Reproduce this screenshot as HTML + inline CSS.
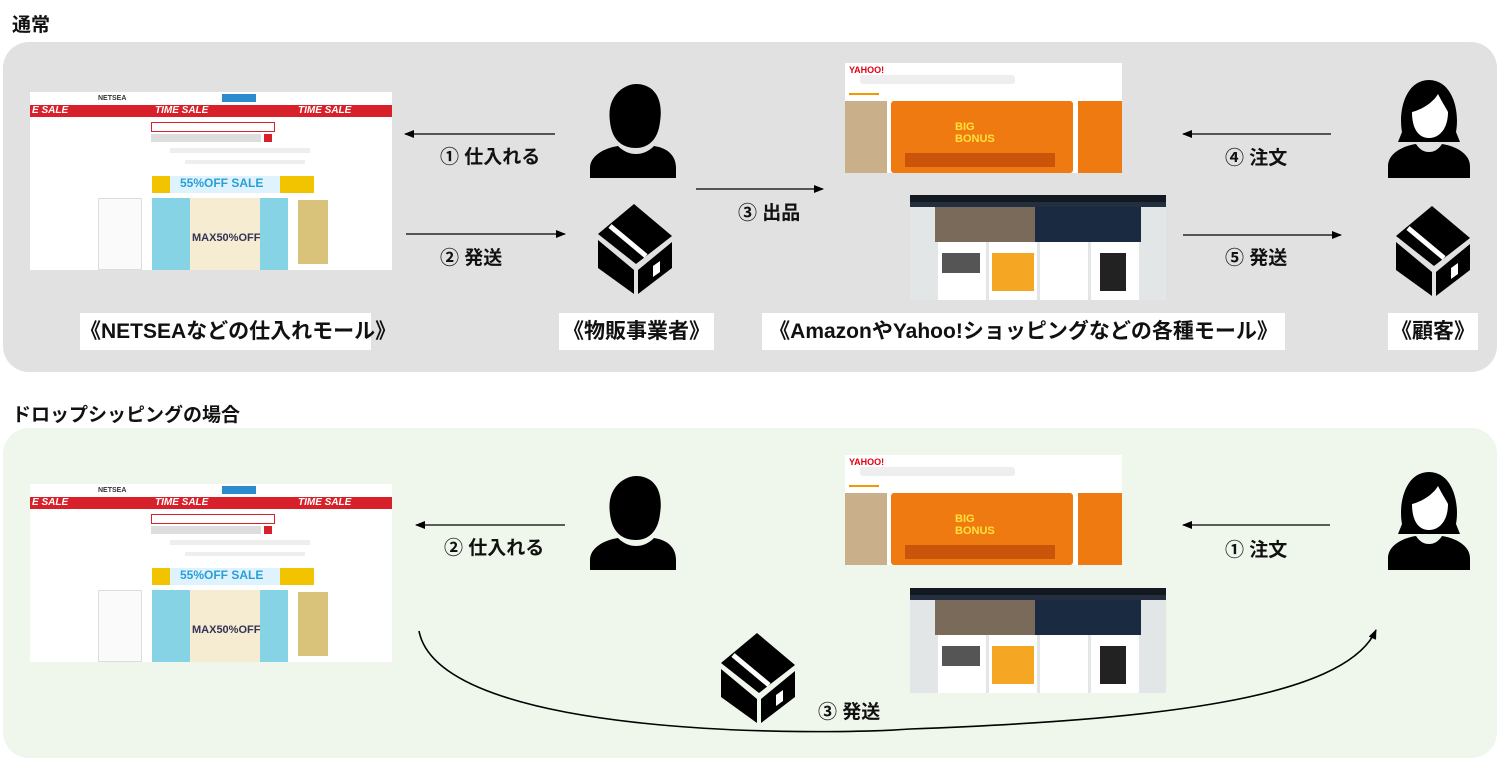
<!DOCTYPE html>
<html><head><meta charset="utf-8">
<style>
*{margin:0;padding:0;box-sizing:border-box}
body{width:1500px;height:761px;background:#fff;position:relative;overflow:hidden;font-family:"Liberation Sans","Noto Sans CJK JP",sans-serif;}
.a{position:absolute}
.title{font-weight:bold;font-size:19px;color:#111}
.panel{position:absolute;left:3px;width:1494px;height:330px;border-radius:26px}
.lbl{position:absolute;font-weight:bold;font-size:19px;color:#111;white-space:nowrap}
.wl{position:absolute;background:#fff;font-weight:bold;font-size:21px;color:#111;white-space:nowrap;text-align:center;line-height:37px;height:37px}
.ns{position:absolute;width:362px;height:178px;background:#fff;overflow:hidden}
.yh{position:absolute;width:277px;height:110px;background:#fff;overflow:hidden}
.az{position:absolute;width:256px;height:105px;background:#e3e6e6;overflow:hidden}
</style></head><body>

<div class="a title" style="left:12px;top:10px">通常</div>
<div class="panel" style="top:42px;background:#e1e1e1"></div>
<div class="a title" style="left:12px;top:400px">ドロップシッピングの場合</div>
<div class="panel" style="top:428px;background:#eff6ec"></div>

<!-- NETSEA screenshot template x2 -->
<div class="ns" style="left:30px;top:92px">
 <div class="a" style="left:68px;top:3px;font-size:7px;font-weight:bold;color:#333">NETSEA</div>
 <div class="a" style="left:192px;top:2px;width:34px;height:8px;background:#2a8ccc"></div>
 <div class="a" style="left:0;top:13px;width:362px;height:12px;background:#d8202a"></div>
 <div class="a" style="left:2px;top:13px;font-size:10px;color:#fff;font-style:italic;font-weight:bold">E SALE</div>
 <div class="a" style="left:125px;top:13px;font-size:10px;color:#fff;font-style:italic;font-weight:bold">TIME SALE</div>
 <div class="a" style="left:268px;top:13px;font-size:10px;color:#fff;font-style:italic;font-weight:bold">TIME SALE</div>
 <div class="a" style="left:121px;top:30px;width:124px;height:10px;border:1px solid #d8202a"></div>
 <div class="a" style="left:121px;top:42px;width:110px;height:8px;background:#ddd"></div>
 <div class="a" style="left:234px;top:42px;width:8px;height:8px;background:#d8202a"></div>
 <div class="a" style="left:140px;top:56px;width:140px;height:5px;background:#eee"></div>
 <div class="a" style="left:155px;top:68px;width:120px;height:4px;background:#eee"></div>
 <div class="a" style="left:122px;top:84px;width:162px;height:17px;background:#f2c400"></div>
 <div class="a" style="left:140px;top:84px;width:110px;height:17px;background:#dff3ff;color:#2a9fd6;font-size:12px;font-weight:bold;padding-left:10px">55%OFF SALE</div>
 <div class="a" style="left:68px;top:106px;width:44px;height:72px;background:#fafafa;border:1px solid #ddd"></div>
 <div class="a" style="left:122px;top:106px;width:136px;height:72px;background:#86d3e6"></div>
 <div class="a" style="left:160px;top:106px;width:70px;height:72px;background:#f6ecd2"></div>
 <div class="a" style="left:162px;top:140px;font-size:11px;color:#335;font-weight:bold">MAX50%OFF</div>
 <div class="a" style="left:268px;top:108px;width:30px;height:64px;background:#d9c27a"></div>
</div>
<div class="ns" style="left:30px;top:484px">
 <div class="a" style="left:68px;top:3px;font-size:7px;font-weight:bold;color:#333">NETSEA</div>
 <div class="a" style="left:192px;top:2px;width:34px;height:8px;background:#2a8ccc"></div>
 <div class="a" style="left:0;top:13px;width:362px;height:12px;background:#d8202a"></div>
 <div class="a" style="left:2px;top:13px;font-size:10px;color:#fff;font-style:italic;font-weight:bold">E SALE</div>
 <div class="a" style="left:125px;top:13px;font-size:10px;color:#fff;font-style:italic;font-weight:bold">TIME SALE</div>
 <div class="a" style="left:268px;top:13px;font-size:10px;color:#fff;font-style:italic;font-weight:bold">TIME SALE</div>
 <div class="a" style="left:121px;top:30px;width:124px;height:10px;border:1px solid #d8202a"></div>
 <div class="a" style="left:121px;top:42px;width:110px;height:8px;background:#ddd"></div>
 <div class="a" style="left:234px;top:42px;width:8px;height:8px;background:#d8202a"></div>
 <div class="a" style="left:140px;top:56px;width:140px;height:5px;background:#eee"></div>
 <div class="a" style="left:155px;top:68px;width:120px;height:4px;background:#eee"></div>
 <div class="a" style="left:122px;top:84px;width:162px;height:17px;background:#f2c400"></div>
 <div class="a" style="left:140px;top:84px;width:110px;height:17px;background:#dff3ff;color:#2a9fd6;font-size:12px;font-weight:bold;padding-left:10px">55%OFF SALE</div>
 <div class="a" style="left:68px;top:106px;width:44px;height:72px;background:#fafafa;border:1px solid #ddd"></div>
 <div class="a" style="left:122px;top:106px;width:136px;height:72px;background:#86d3e6"></div>
 <div class="a" style="left:160px;top:106px;width:70px;height:72px;background:#f6ecd2"></div>
 <div class="a" style="left:162px;top:140px;font-size:11px;color:#335;font-weight:bold">MAX50%OFF</div>
 <div class="a" style="left:268px;top:108px;width:30px;height:64px;background:#d9c27a"></div>
</div>

<!-- Yahoo x2 -->
<div class="yh" style="left:845px;top:63px">
 <div class="a" style="left:4px;top:2px;font-size:9px;font-weight:bold;color:#e60012">YAHOO!</div>
 <div class="a" style="left:15px;top:12px;width:155px;height:9px;background:#eee;border-radius:3px"></div>
 <div class="a" style="left:4px;top:30px;width:30px;height:2px;background:#f39800"></div>
 <div class="a" style="left:0;top:38px;width:42px;height:72px;background:#c9b08a"></div>
 <div class="a" style="left:46px;top:38px;width:182px;height:72px;background:#f07a12;border-radius:3px"></div>
 <div class="a" style="left:110px;top:58px;font-size:11px;font-weight:bold;color:#ffe23a">BIG<br>BONUS</div>
 <div class="a" style="left:60px;top:90px;width:150px;height:14px;background:#c9540a"></div>
 <div class="a" style="left:233px;top:38px;width:44px;height:72px;background:#f07a12"></div>
</div>
<div class="yh" style="left:845px;top:455px">
 <div class="a" style="left:4px;top:2px;font-size:9px;font-weight:bold;color:#e60012">YAHOO!</div>
 <div class="a" style="left:15px;top:12px;width:155px;height:9px;background:#eee;border-radius:3px"></div>
 <div class="a" style="left:4px;top:30px;width:30px;height:2px;background:#f39800"></div>
 <div class="a" style="left:0;top:38px;width:42px;height:72px;background:#c9b08a"></div>
 <div class="a" style="left:46px;top:38px;width:182px;height:72px;background:#f07a12;border-radius:3px"></div>
 <div class="a" style="left:110px;top:58px;font-size:11px;font-weight:bold;color:#ffe23a">BIG<br>BONUS</div>
 <div class="a" style="left:60px;top:90px;width:150px;height:14px;background:#c9540a"></div>
 <div class="a" style="left:233px;top:38px;width:44px;height:72px;background:#f07a12"></div>
</div>

<!-- Amazon x2 -->
<div class="az" style="left:910px;top:195px">
 <div class="a" style="left:0;top:0;width:256px;height:7px;background:#131921"></div>
 <div class="a" style="left:0;top:7px;width:256px;height:5px;background:#232f3e"></div>
 <div class="a" style="left:25px;top:12px;width:206px;height:35px;background:#1a2a40"></div>
 <div class="a" style="left:25px;top:12px;width:100px;height:35px;background:#7a6a5a"></div>
 <div class="a" style="left:28px;top:47px;width:48px;height:58px;background:#fff"></div>
 <div class="a" style="left:79px;top:47px;width:48px;height:58px;background:#fff"></div>
 <div class="a" style="left:82px;top:58px;width:42px;height:38px;background:#f5a623"></div>
 <div class="a" style="left:130px;top:47px;width:48px;height:58px;background:#fff"></div>
 <div class="a" style="left:181px;top:47px;width:48px;height:58px;background:#fff"></div>
 <div class="a" style="left:190px;top:58px;width:26px;height:38px;background:#222"></div>
 <div class="a" style="left:32px;top:58px;width:38px;height:20px;background:#555"></div>
</div>
<div class="az" style="left:910px;top:588px">
 <div class="a" style="left:0;top:0;width:256px;height:7px;background:#131921"></div>
 <div class="a" style="left:0;top:7px;width:256px;height:5px;background:#232f3e"></div>
 <div class="a" style="left:25px;top:12px;width:206px;height:35px;background:#1a2a40"></div>
 <div class="a" style="left:25px;top:12px;width:100px;height:35px;background:#7a6a5a"></div>
 <div class="a" style="left:28px;top:47px;width:48px;height:58px;background:#fff"></div>
 <div class="a" style="left:79px;top:47px;width:48px;height:58px;background:#fff"></div>
 <div class="a" style="left:82px;top:58px;width:42px;height:38px;background:#f5a623"></div>
 <div class="a" style="left:130px;top:47px;width:48px;height:58px;background:#fff"></div>
 <div class="a" style="left:181px;top:47px;width:48px;height:58px;background:#fff"></div>
 <div class="a" style="left:190px;top:58px;width:26px;height:38px;background:#222"></div>
 <div class="a" style="left:32px;top:58px;width:38px;height:20px;background:#555"></div>
</div>

<svg class="a" style="left:0;top:0" width="1500" height="761">
<defs>
 <marker id="ah" markerWidth="10" markerHeight="8" refX="9" refY="4" orient="auto" markerUnits="userSpaceOnUse"><path d="M0,0 L10,4 L0,8z" fill="#000"/></marker>
 <g id="man">
  <path d="M20,38 C16,10 36,0 46,0 C62,0 74,12 70,38 C68,56 58,64 46,64 C32,64 22,56 20,38z" fill="#000"/>
  <path d="M26,36 C34,36 48,30 58,20 C62,28 64,32 66,36 C64,54 56,60 46,60 C34,60 27,52 26,36z" fill="#fff" opacity="0"/>
  <path d="M0,94 L0,84 C0,72 14,64 28,62 C34,68 40,70 46,70 C52,70 58,68 64,62 C78,64 86,72 86,84 L86,94z" fill="#000"/>
 </g>
 <g id="woman">
  <path d="M14,52 C10,30 18,0 41,0 C64,0 72,30 68,52 L72,62 L10,62z" fill="#000"/>
  <path d="M24,32 C32,30 44,24 50,14 C54,22 58,28 60,32 C60,48 52,58 41,58 C30,58 24,48 24,32z" fill="#fff"/>
  <path d="M0,98 L0,86 C0,74 14,66 28,64 C32,70 36,72 41,72 C46,72 50,70 54,64 C68,66 82,74 82,86 L82,98z" fill="#000"/>
 </g>
 <g id="box">
  <path d="M36,0 L74,32 L38,60 L0,30z" fill="#000"/>
  <path d="M0,36 L36,66 L36,90 L0,64z" fill="#000"/>
  <path d="M40,66 L74,38 L74,64 L40,90z" fill="#000"/>
  <path d="M12,22 L48,52" stroke="#fff" stroke-width="5"/>
  <path d="M55,62 L62,57 L62,68 L55,73z" fill="#fff"/>
 </g>
</defs>
<g stroke="#000" stroke-width="1.3" fill="none">
 <line x1="555" y1="134" x2="405" y2="134" marker-end="url(#ah)"/>
 <line x1="406" y1="234" x2="565" y2="234" marker-end="url(#ah)"/>
 <line x1="696" y1="189" x2="823" y2="189" marker-end="url(#ah)"/>
 <line x1="1331" y1="134" x2="1183" y2="134" marker-end="url(#ah)"/>
 <line x1="1183" y1="235" x2="1341" y2="235" marker-end="url(#ah)"/>
 <line x1="565" y1="525" x2="416" y2="525" marker-end="url(#ah)"/>
 <line x1="1330" y1="525" x2="1183" y2="525" marker-end="url(#ah)"/>
 <path d="M419,631 C440,740 830,735 910,729 C1150,720 1345,700 1376,630" stroke-width="1.6" marker-end="url(#ah)"/>
</g>
<use href="#man" x="590" y="84"/>
<use href="#box" x="598" y="204"/>
<use href="#woman" x="1388" y="80"/>
<use href="#box" x="1396" y="206"/>
<use href="#man" x="590" y="476"/>
<use href="#woman" x="1388" y="472"/>
<use href="#box" x="721" y="633"/>
</svg>

<div class="lbl" style="left:440px;top:142px">① 仕入れる</div>
<div class="lbl" style="left:440px;top:243px">② 発送</div>
<div class="lbl" style="left:738px;top:198px">③ 出品</div>
<div class="lbl" style="left:1225px;top:143px">④ 注文</div>
<div class="lbl" style="left:1225px;top:243px">⑤ 発送</div>
<div class="lbl" style="left:444px;top:533px">② 仕入れる</div>
<div class="lbl" style="left:1225px;top:535px">① 注文</div>
<div class="lbl" style="left:818px;top:697px">③ 発送</div>

<div class="wl" style="left:80px;top:313px;width:291px">《NETSEAなどの仕入れモール》</div>
<div class="wl" style="left:559px;top:313px;width:155px">《物販事業者》</div>
<div class="wl" style="left:762px;top:313px;width:523px">《AmazonやYahoo!ショッピングなどの各種モール》</div>
<div class="wl" style="left:1388px;top:313px;width:90px">《顧客》</div>
</body></html>
